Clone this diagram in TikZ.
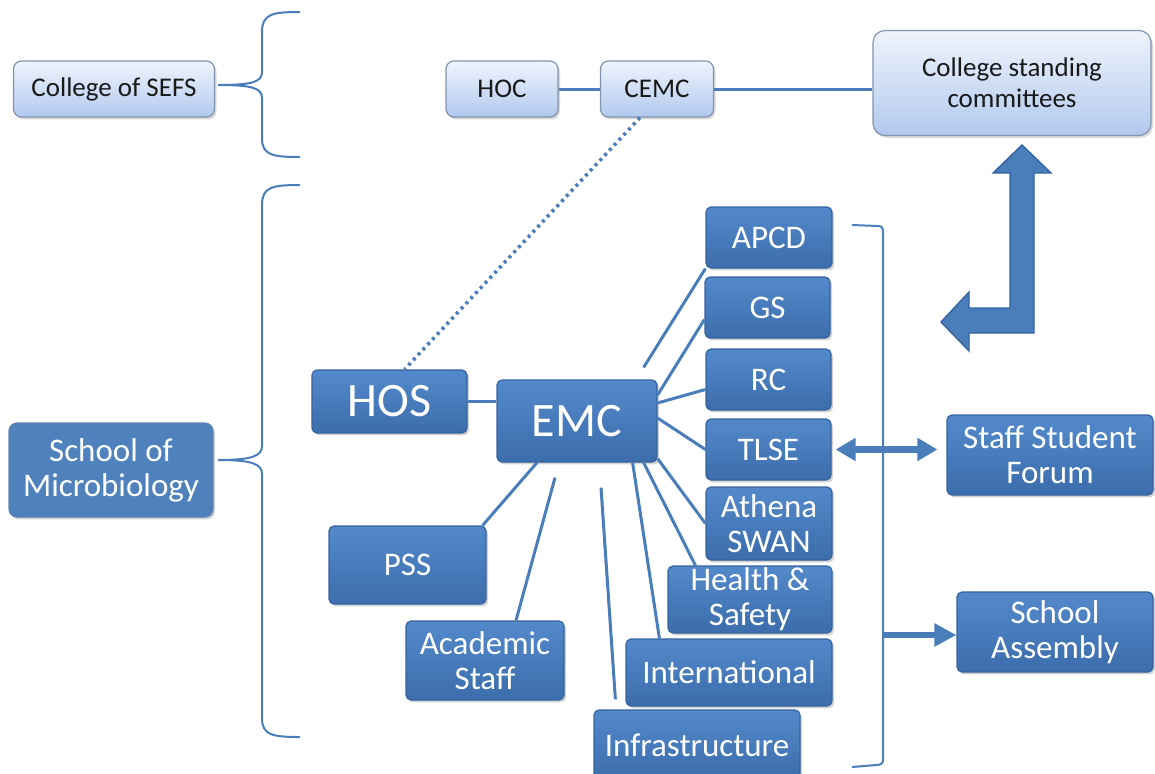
\documentclass[tikz,border=0pt]{standalone}
\usepackage{fontspec}
\setmainfont{Carlito}
\usetikzlibrary{arrows.meta,shadows}
\definecolor{linkblue}{HTML}{4A7EBB}
\definecolor{darktop}{HTML}{5389CB}
\definecolor{darkbot}{HTML}{3C6DAC}
\definecolor{darkedge}{HTML}{35649E}
\definecolor{lighttop}{HTML}{EFF4FC}
\definecolor{lightbot}{HTML}{B1C9EE}
\definecolor{lightedge}{HTML}{8193AD}
\definecolor{schoolfill}{HTML}{4F81BD}

\begin{document}
\begin{tikzpicture}[x=0.5pt,y=-0.5pt,
  lightbox/.style={draw=lightedge, line width=0.6pt, rounded corners=4pt, top color=lighttop, bottom color=lightbot,
    text=black!90, inner sep=0pt, align=center, font=\fontsize{13.5}{15.5}\selectfont,
    drop shadow={shadow xshift=1pt, shadow yshift=-1.2pt, opacity=0.3}},
  darkbox/.style={draw=darkedge, line width=0.6pt, rounded corners=2.5pt, top color=darktop, bottom color=darkbot,
    text=white, inner sep=0pt, align=center, font=\fontsize{16.5}{17.5}\selectfont,
    drop shadow={shadow xshift=1pt, shadow yshift=-1.2pt, opacity=0.35}},
  bigbox/.style={darkbox, font=\fontsize{24}{28}\selectfont},
  link/.style={draw=linkblue, line width=1.5pt},
  brace/.style={draw=linkblue, line width=1pt},
  fatarrow/.style={draw=linkblue, line width=3.2pt, -{Triangle[length=11pt,width=11pt]}},
  fatboth/.style={draw=linkblue, line width=3.2pt, {Triangle[length=10pt,width=11pt]}-{Triangle[length=10pt,width=11pt]}}]
\useasboundingbox (0,0) rectangle (1155,773);

\node[lightbox, minimum width=100.5pt, minimum height=28pt] (sefs) at (114,89) {College of SEFS};
\node[lightbox, minimum width=56pt, minimum height=28pt] (hoc) at (502,89) {HOC};
\node[lightbox, minimum width=56.5pt, minimum height=28pt] (cemc) at (657,89) {CEMC};
\node[lightbox, minimum width=139pt, minimum height=52.5pt, rounded corners=6pt] (csc) at (1012,83) {College standing\\committees};

\node[darkbox, top color=schoolfill, bottom color=schoolfill, draw=darkedge!80, rounded corners=4pt,
  minimum width=102pt, minimum height=47pt] (micro) at (111,470) {School of\\Microbiology};

\node[bigbox, minimum width=77.5pt, minimum height=31.5pt] (hos) at (389.5,401.5) {HOS};
\node[bigbox, minimum width=80pt, minimum height=41pt] (emc) at (577,421) {EMC};

\node[darkbox, minimum width=63pt, minimum height=30.5pt] (apcd) at (769,237.5) {APCD};
\node[darkbox, minimum width=62.5pt, minimum height=30.5pt] (gs) at (767.5,307.5) {GS};
\node[darkbox, minimum width=62.5pt, minimum height=30.5pt] (rc) at (768.5,379.5) {RC};
\node[darkbox, minimum width=62.5pt, minimum height=30.5pt] (tlse) at (768.5,449.5) {TLSE};
\node[darkbox, minimum width=63pt, minimum height=36.5pt] (athena) at (769,523.5) {Athena\\SWAN};
\node[darkbox, minimum width=82pt, minimum height=33.5pt] (health) at (750,599.5) {Health \&\\Safety};
\node[darkbox, minimum width=103pt, minimum height=33.5pt] (intl) at (729,672.5) {International};
\node[darkbox, minimum width=103pt, minimum height=35pt] (infra) at (697,745) {Infrastructure};
\node[darkbox, minimum width=78.5pt, minimum height=39pt] (pss) at (407.5,565) {PSS};
\node[darkbox, minimum width=79pt, minimum height=39.5pt] (acad) at (485,660.5) {Academic\\Staff};

\node[darkbox, minimum width=103pt, minimum height=40pt] (ssf) at (1050,455) {Staff Student\\Forum};
\node[darkbox, minimum width=98pt, minimum height=40pt] (sa) at (1055,632) {School\\Assembly};

\draw[brace] (300,12) .. controls (272,12) and (262,14) .. (262,32) -- (262,72)
  .. controls (262,82) and (252,85) .. (218,85) .. controls (252,85) and (262,88) .. (262,98)
  -- (262,138) .. controls (262,155) and (272,157) .. (300,157);
\draw[brace] (300,185) .. controls (272,185) and (262,187) .. (262,205) -- (262,446)
  .. controls (262,456) and (252,460) .. (218,460) .. controls (252,460) and (262,464) .. (262,474)
  -- (262,718) .. controls (262,735) and (272,737) .. (300,737);
\draw[brace] (852,225) -- (878,226) .. controls (882,226) and (883,228) .. (883,232) -- (883,760)
  .. controls (883,764) and (880,765) .. (876,765) -- (852,767);

\draw[link] (hoc) -- (cemc);
\draw[link] (cemc.east) -- (cemc.east -| csc.west);
\draw[link, dotted, line width=1.8pt] ([xshift=-8.5pt]cemc.south) -- ([xshift=7.5pt]hos.north);
\draw[link] (hos.east) -- (hos.east -| emc.west);

\draw[link] ([xshift=-7pt,yshift=6pt]emc.north east) -- (apcd.south west);
\draw[link] ([yshift=13pt]emc.east) -- ([yshift=-6pt]gs.west);
\draw[link] ([yshift=9pt]emc.east) -- ([yshift=-5pt]rc.west);
\draw[link] ([yshift=1.5pt]emc.east) -- (tlse.west);
\draw[link] ([yshift=2pt]emc.south east) -- (athena.west);
\draw[link] ([xshift=-7pt]emc.south east) -- ([xshift=14pt]health.north west);
\draw[link] ([xshift=-12.5pt]emc.south east) -- ([xshift=17pt]intl.north west);
\draw[link] ([xshift=12pt,yshift=-12.5pt]emc.south) -- ([xshift=11pt,yshift=5pt]infra.north west);
\draw[link] ([xshift=-11pt,yshift=-7.5pt]emc.south) -- ([xshift=15.5pt]acad.north);
\draw[link] ([xshift=-20pt]emc.south) -- ([xshift=-2pt]pss.north east);

\draw[fatboth, shorten <=2pt, shorten >=4.5pt] (tlse.east) -- (tlse.east -| ssf.west);
\coordinate (brk) at (883,635);
\draw[fatarrow] (brk) -- (brk -| sa.west);

\filldraw[fill=linkblue, draw=darkedge, line width=0.7pt]
  (1022,145) -- (1051,173) -- (1034,173) -- (1034,333) -- (969,333) -- (969,351)
  -- (941,322) -- (969,292) -- (969,308) -- (1010,308) -- (1010,173) -- (993,173) -- cycle;
\end{tikzpicture}
\end{document}
